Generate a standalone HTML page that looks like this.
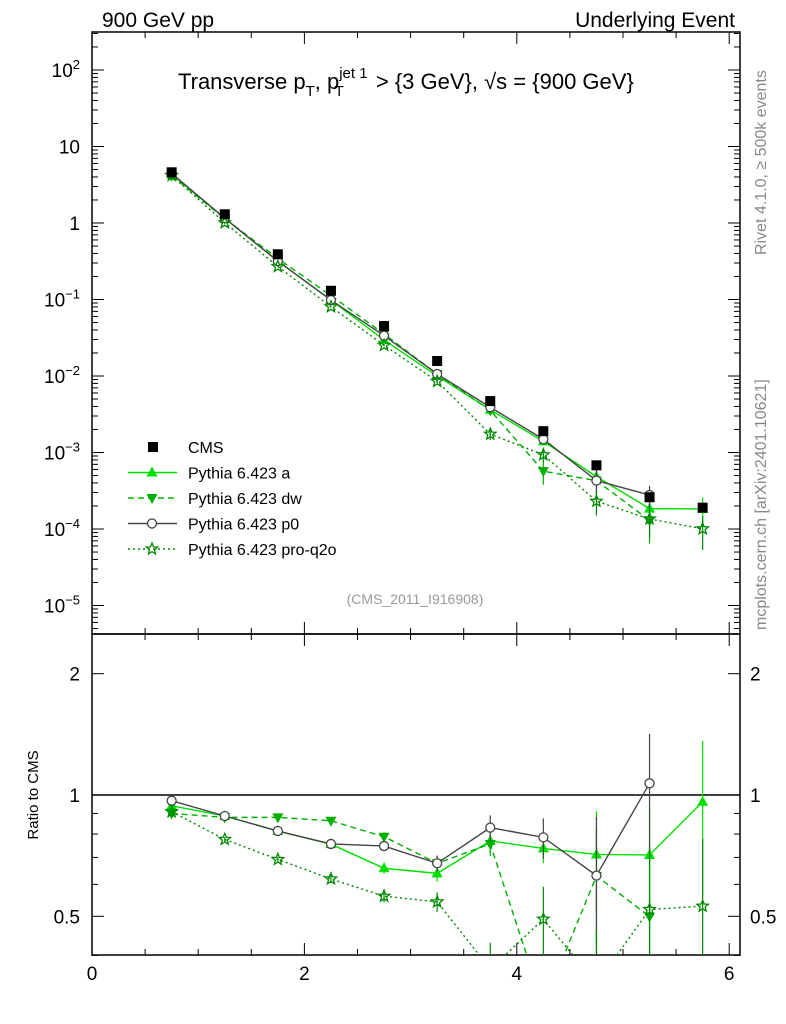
<!DOCTYPE html>
<html><head><meta charset="utf-8"><style>
body{margin:0;background:#fff;overflow:hidden;}
svg{display:block;font-family:"Liberation Sans",sans-serif;}
</style></head><body>
<svg id="c" width="786" height="1024"></svg>
<script>
const xs=[0.75,1.25,1.75,2.25,2.75,3.25,3.75,4.25,4.75,5.25,5.75];
const cms=[4.6,1.3,0.39,0.13,0.045,0.0157,0.0047,0.0019,0.00068,0.00026,0.00019];
const rA=[0.94,0.887,0.814,0.755,0.658,0.639,0.769,0.737,0.712,0.71,0.962];
const rDW=[0.90,0.88,0.88,0.863,0.788,0.677,0.756,0.30,0.63,0.499];
const rP0=[0.968,0.887,0.814,0.756,0.747,0.677,0.83,0.785,0.631,1.069];
const rQ2O=[0.909,0.776,0.692,0.619,0.561,0.543,0.37,0.492,0.34,0.52,0.53];
const mainTicks=["10<tspan dy='-8' font-size='13'>−5</tspan>","10<tspan dy='-8' font-size='13'>−4</tspan>","10<tspan dy='-8' font-size='13'>−3</tspan>","10<tspan dy='-8' font-size='13'>−2</tspan>","10<tspan dy='-8' font-size='13'>−1</tspan>","1","10","10<tspan dy='-8' font-size='13'>2</tspan>"];
const xTicks=[0,2,4,6];
const L=92,R=740,T=32,M=634,B=955;
const X=v=>L+v*106.2;
const Y=v=>223-76.5*Math.log10(v);
const YR=r=>795-403*Math.log10(r);
const s=document.getElementById('c');
const NS="http://www.w3.org/2000/svg";
function el(t,a,p){const e=document.createElementNS(NS,t);for(const k in a)e.setAttribute(k,a[k]);(p||s).appendChild(e);return e;}
const defs=el('defs',{});
const c1=el('clipPath',{id:'cm'},defs);el('rect',{x:L,y:T,width:R-L,height:M-T},c1);
const c2=el('clipPath',{id:'cr'},defs);el('rect',{x:L,y:M,width:R-L,height:B-M},c2);
let f=el('rect',{x:L,y:T,width:R-L,height:M-T,fill:'none',stroke:'#000','stroke-width':1.5});

f=el('rect',{x:L,y:M,width:R-L,height:B-M,fill:'none',stroke:'#000','stroke-width':1.5});

for(let d=-6;d<=2;d++){for(let m=1;m<10;m++){const v=m*Math.pow(10,d);const y=Y(v);if(y<T||y>M)continue;const len=m==1?12:6;
el('line',{x1:L,x2:L+len,y1:y,y2:y,stroke:'#000'});el('line',{x1:R,x2:R-len,y1:y,y2:y,stroke:'#000'});}}
mainTicks.forEach((t,i)=>{const y=Y(Math.pow(10,i-5));const tx=el('text',{x:80,y:y+7,'text-anchor':'end','font-size':19});tx.innerHTML=t;
});
[0.4,0.5,0.6,0.7,0.8,0.9,1,2].forEach(v=>{const y=YR(v);const len=(v==0.5||v==1||v==2)?12:6;el('line',{x1:L,x2:L+len,y1:y,y2:y,stroke:'#000'});el('line',{x1:R,x2:R-len,y1:y,y2:y,stroke:'#000'});});
[[2,'2'],[1,'1'],[0.5,'0.5']].forEach(([v,t])=>{let tx=el('text',{x:80,y:YR(v)+7,'text-anchor':'end','font-size':19});tx.textContent=t;

tx=el('text',{x:750,y:YR(v)+7,'font-size':19});tx.textContent=t;});
for(let v=0;v<=6.1;v+=0.5){const x=X(v);const big=Math.abs(v%2)<1e-6;const len=big?12:6;
el('line',{x1:x,x2:x,y1:M,y2:M-len,stroke:'#000'});el('line',{x1:x,x2:x,y1:B,y2:B-len,stroke:'#000'});el('line',{x1:x,x2:x,y1:T,y2:T+len,stroke:'#000'});el('line',{x1:x,x2:x,y1:M,y2:M+len,stroke:'#000'});}
xTicks.forEach(v=>{const tx=el('text',{x:X(v),y:980,'text-anchor':'middle','font-size':19});tx.textContent=v;
});
el('line',{x1:L,x2:R,y1:YR(1),y2:YR(1),stroke:'#000','stroke-width':1.5});
function txt(x,y,str,a){const t=el('text',Object.assign({x:x,y:y},a));t.innerHTML=str;return t;}
let t=txt(102,27,'900 GeV pp',{'font-size':21});
t=txt(735,27,'Underlying Event',{'font-size':21,'text-anchor':'end'});
t=txt(178,89,"Transverse p<tspan dy='7' font-size='15'>T</tspan><tspan dy='-7'>, p</tspan><tspan dy='-11' font-size='15'>jet 1</tspan><tspan dx='-33' dy='18' font-size='15'>T</tspan><tspan dx='26' dy='-7'> &gt; {3 GeV}, √s = {900 GeV}</tspan>",{'font-size':22});

t=txt(415,604,'(CMS_2011_I916908)',{'font-size':14,fill:'#999','text-anchor':'middle'});
t=txt(0,0,'Rivet 4.1.0, ≥ 500k events',{'font-size':16,fill:'#888',transform:'translate(766,255) rotate(-90)'});
t=txt(0,0,'mcplots.cern.ch [arXiv:2401.10621]',{'font-size':16,fill:'#888',transform:'translate(766,630) rotate(-90)'});
t=txt(0,0,'Ratio to CMS',{'font-size':15,'text-anchor':'middle',transform:'translate(38,795) rotate(-90)'});
function marker(g,type,x,y,col){
 if(type=='sq')el('rect',{x:x-5,y:y-5,width:10,height:10,fill:'#000'},g);
 else if(type=='up')el('polygon',{points:`${x},${y-6} ${x-5.5},${y+4} ${x+5.5},${y+4}`,fill:col},g);
 else if(type=='dn')el('polygon',{points:`${x},${y+6} ${x-5.5},${y-4} ${x+5.5},${y-4}`,fill:col},g);
 else if(type=='o')el('circle',{cx:x,cy:y,r:4.5,fill:'#fff',stroke:col,'stroke-width':1.3},g);
 else if(type=='st'){let p=[];for(let i=0;i<10;i++){const r=i%2?2.6:6,a=-Math.PI/2+i*Math.PI/5;p.push((x+r*Math.cos(a)).toFixed(1)+','+(y+r*Math.sin(a)).toFixed(1));}
  el('polygon',{points:p.join(' '),fill:'none',stroke:col,'stroke-width':1.3},g);}
}
const series=[
 {name:'a',r:rA,col:'#00e000',dash:'',m:'up',err:[0.01,0.01,0.01,0.015,0.02,0.03,0.05,0.06,0.2,0.22,0.4]},
 {name:'dw',r:rDW,col:'#00b000',dash:'6,4',m:'dn',err:[0.01,0.01,0.01,0.015,0.02,0.03,0.05,0.1,0.2,0.25]},
 {name:'p0',r:rP0,col:'#444',dash:'',m:'o',err:[0.01,0.01,0.01,0.015,0.02,0.03,0.06,0.09,0.25,0.35]},
 {name:'pro-q2o',r:rQ2O,col:'#008800',dash:'2,3',m:'st',err:[0.01,0.01,0.01,0.015,0.02,0.03,0.06,0.1,0.12,0.22,0.25]}
];
function draw(panel,clip,yf,getv){
 series.forEach(sr=>{const g=el('g',{'clip-path':`url(#${clip})`});
  
  const pts=sr.r.map((r,i)=>[X(xs[i]),yf(getv(r,i))]);
  sr.r.forEach((r,i)=>{const v=getv(r,i),e=v*sr.err[i]/r;el('line',{x1:pts[i][0],x2:pts[i][0],y1:yf(v+e),y2:yf(Math.max(v-e,v*0.2)),stroke:sr.col,'stroke-width':1.2},g);});
  el('polyline',{points:pts.map(p=>p.join(',')).join(' '),fill:'none',stroke:sr.col,'stroke-width':1.4,'stroke-dasharray':sr.dash},g);
  pts.forEach(p=>marker(g,sr.m,p[0],p[1],sr.col));
 });
}
draw('main','cm',Y,(r,i)=>r*cms[i]);
draw('ratio','cr',YR,(r,i)=>r);
const gd=el('g',{'clip-path':'url(#cm)'});
cms.forEach((v,i)=>marker(gd,'sq',X(xs[i]),Y(v)));
const lg=el('g',{});
const items=[['CMS',null],['Pythia 6.423 a',series[0]],['Pythia 6.423 dw',series[1]],['Pythia 6.423 p0',series[2]],['Pythia 6.423 pro-q2o',series[3]]];
items.forEach((it,i)=>{const y=447+i*25.5;const g=el('g',{},lg);
 if(!it[1])marker(g,'sq',153,y);else{el('line',{x1:128,x2:177,y1:y,y2:y,stroke:it[1].col,'stroke-width':1.4,'stroke-dasharray':it[1].dash},g);marker(g,it[1].m,152,y,it[1].col);}
 const tt=el('text',{x:188,y:y+6,'font-size':16},g);tt.textContent=it[0];});
</script>
</body></html>
